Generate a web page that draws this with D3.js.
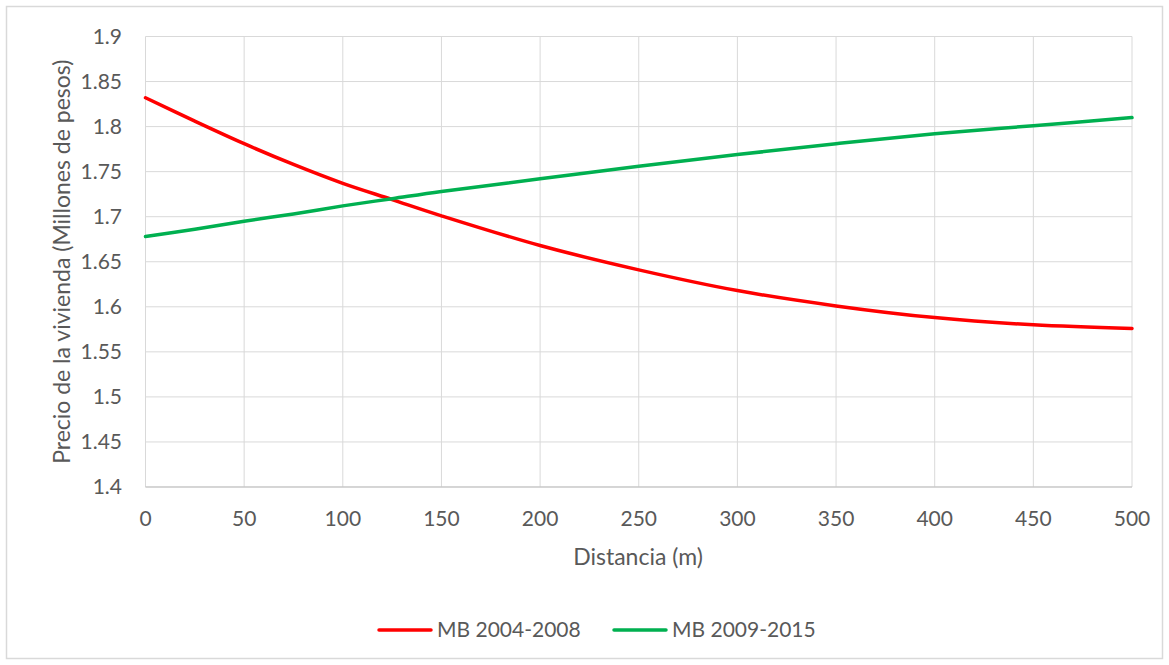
<!DOCTYPE html>
<html>
<head>
<meta charset="utf-8">
<script src="https://cdn.jsdelivr.net/npm/d3@7"></script>
<style>
  html, body { margin: 0; padding: 0; background: #fff; }
  svg { display: block; font-family: Lato, "Open Sans", sans-serif; }
</style>
</head>
<body>
<svg id="chart" width="1169" height="665"></svg>
<script>
// values
const distances = [0, 25, 50, 75, 100, 125, 150, 200, 250, 300, 350, 400, 450, 500];
const mb2004 = [1.832, 1.806, 1.781, 1.758, 1.737, 1.719, 1.701, 1.668, 1.641, 1.618, 1.601, 1.588, 1.580, 1.576];
const mb2009 = [1.678, 1.686, 1.695, 1.703, 1.712, 1.720, 1.728, 1.742, 1.756, 1.769, 1.781, 1.792, 1.801, 1.810];
const xTicks = [0, 50, 100, 150, 200, 250, 300, 350, 400, 450, 500];
const yTicks = [1.4, 1.45, 1.5, 1.55, 1.6, 1.65, 1.7, 1.75, 1.8, 1.85, 1.9];
const seriesNames = ["MB 2004-2008", "MB 2009-2015"];
const seriesColors = ["#ff0000", "#00b050"];

(function () {
  const svg = d3.select("#chart");
  const W = 1169, H = 665;
  const L = 145.5, R = 1132, T = 36.5, B = 487;
  const txt = "#595959", grid = "#d9d9d9";

  // outer frame
  svg.append("rect").attr("x", 6.5).attr("y", 6.5).attr("width", W - 13).attr("height", H - 13)
    .attr("fill", "#fff").attr("stroke", grid).attr("stroke-width", 1.5);

  const x = d3.scaleLinear().domain([0, 500]).range([L, R]);
  const y = d3.scaleLinear().domain([1.4, 1.9]).range([B, T]);

  // gridlines
  svg.append("g").selectAll("line").data(yTicks).join("line")
    .attr("x1", L).attr("x2", R).attr("y1", (d) => y(d)).attr("y2", (d) => y(d))
    .attr("stroke", grid).attr("stroke-width", 1);
  svg.append("g").selectAll("line").data(xTicks).join("line")
    .attr("y1", T).attr("y2", B).attr("x1", (d) => x(d)).attr("x2", (d) => x(d))
    .attr("stroke", grid).attr("stroke-width", 1);
  svg.append("line").attr("x1", L).attr("x2", R).attr("y1", B).attr("y2", B)
    .attr("stroke", "#bfbfbf").attr("stroke-width", 1);

  // tick labels
  svg.append("g").selectAll("text").data(yTicks).join("text")
    .attr("x", 122).attr("y", (d) => y(d)).attr("dy", "0.35em")
    .attr("text-anchor", "end").attr("fill", txt).attr("font-size", "21px")
    .text((d) => String(d));
  svg.append("g").selectAll("text").data(xTicks).join("text")
    .attr("x", (d) => x(d)).attr("y", 519).attr("dy", "0.35em")
    .attr("text-anchor", "middle").attr("fill", txt).attr("font-size", "21px")
    .text((d) => String(d));

  // axis titles
  svg.append("text").attr("x", 638).attr("y", 557).attr("dy", "0.35em")
    .attr("text-anchor", "middle").attr("fill", txt).attr("font-size", "23px")
    .text("Distancia (m)");
  svg.append("text").attr("transform", `translate(62,${(T + B) / 2}) rotate(-90)`)
    .attr("dy", "0.35em").attr("text-anchor", "middle").attr("fill", txt).attr("font-size", "23px")
    .text("Precio de la vivienda (Millones de pesos)");

  // series
  const line = d3.line().x((d) => x(d[0])).y((d) => y(d[1])).curve(d3.curveCatmullRom.alpha(0.5));
  [mb2004, mb2009].forEach((vals, i) => {
    svg.append("path").datum(distances.map((d, j) => [d, vals[j]]))
      .attr("fill", "none").attr("stroke", seriesColors[i]).attr("stroke-width", 3.5)
      .attr("stroke-linecap", "round").attr("d", line);
  });

  // legend
  const legX = [379, 614];
  seriesNames.forEach((name, i) => {
    const g = svg.append("g").attr("transform", `translate(${legX[i]},630)`);
    g.append("line").attr("x1", 0).attr("x2", 52).attr("stroke", seriesColors[i])
      .attr("stroke-width", 3.5).attr("stroke-linecap", "round");
    g.append("text").attr("x", 58).attr("dy", "0.35em").attr("fill", txt).attr("font-size", "21px")
      .text(name);
  });
})();
</script>
</body>
</html>
